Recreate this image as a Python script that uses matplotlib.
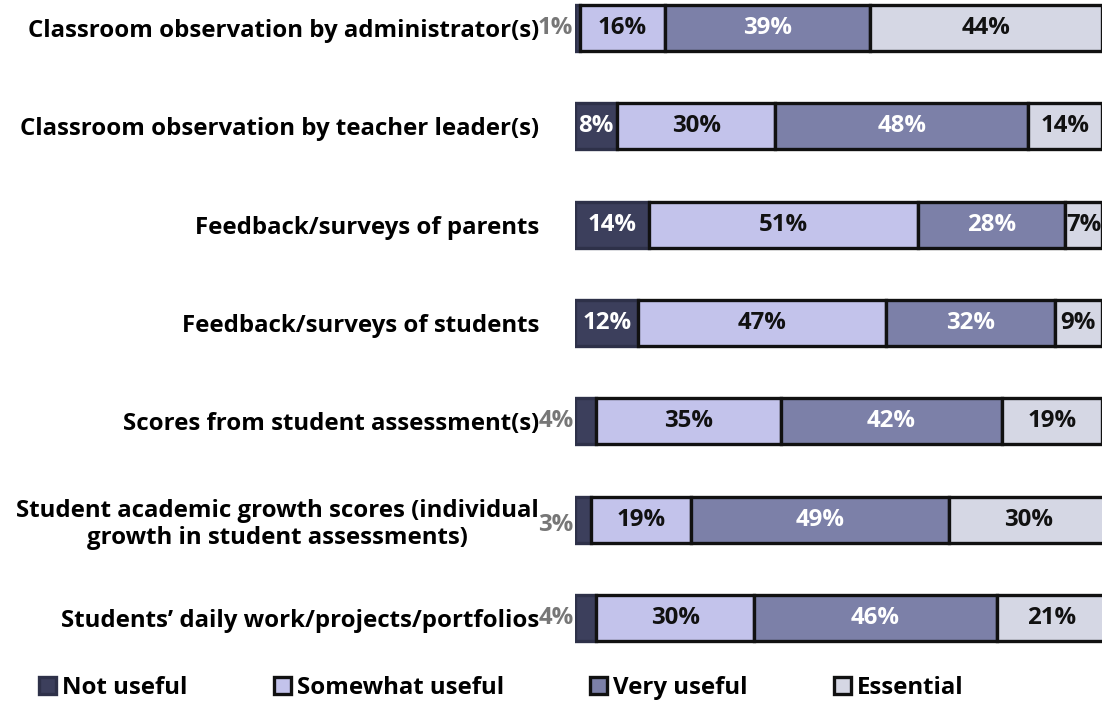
import matplotlib
matplotlib.use("Agg")
import matplotlib.pyplot as plt
from matplotlib.patches import Patch

categories = [
    "Classroom observation by administrator(s)",
    "Classroom observation by teacher leader(s)",
    "Feedback/surveys of parents",
    "Feedback/surveys of students",
    "Scores from student assessment(s)",
    "Student academic growth scores (individual\ngrowth in student assessments)",
    "Students\u2019 daily work/projects/portfolios",
]
series_names = ["Not useful", "Somewhat useful", "Very useful", "Essential"]
not_useful = [1, 8, 14, 12, 4, 3, 4]
somewhat_useful = [16, 30, 51, 47, 35, 19, 30]
very_useful = [39, 48, 28, 32, 42, 49, 46]
essential = [44, 14, 7, 9, 19, 30, 21]

fills = ["#3c3f5c", "#c3c3eb", "#7c80a8", "#d5d7e4"]
edges = ["#2e3149", "#111111", "#111111", "#111111"]
label_colors = ["white", "#111111", "white", "#111111"]

plt.rcParams["font.family"] = ["Open Sans", "DejaVu Sans"]
plt.rcParams["font.weight"] = "bold"
FS = 17.3

fig = plt.figure(figsize=(11.02, 7.02), dpi=100)
ax = fig.add_axes([575 / 1102, 1 - 650 / 702, 1 - 575 / 1102, 650 / 702])

ypos = list(range(len(categories)))
data = [not_useful, somewhat_useful, very_useful, essential]
left = [0] * len(categories)
for si, vals in enumerate(data):
    ax.barh(ypos, vals, left=left, height=0.47, color=fills[si],
            edgecolor=edges[si], linewidth=2.4, zorder=2)
    for i, v in enumerate(vals):
        if v < 5:
            dy = 0.05 if "\n" in categories[i] else 0
            ax.text(left[i] - 0.3, i + dy, f"{v}%", ha="right", va="center",
                    color="#777777", fontsize=FS, fontweight="bold", clip_on=False)
        else:
            ax.text(left[i] + v / 2, i, f"{v}%", ha="center", va="center",
                    color=label_colors[si], fontsize=FS, fontweight="bold")
    left = [l + v for l, v in zip(left, vals)]

ax.set_xlim(0, 100)
ax.set_ylim(6 + 32 / 98.33, -28 / 98.33)
ax.set_yticks(ypos)
ax.set_yticklabels(categories, fontsize=FS, fontweight="bold", multialignment="center")
ax.tick_params(axis="y", length=0, pad=26)
ax.set_xticks([])
for s in ax.spines.values():
    s.set_visible(False)

handles = [Patch(facecolor=fills[i], edgecolor=edges[i], linewidth=2.4) for i in range(4)]
fig.legend(handles, series_names, loc="center", bbox_to_anchor=(0.455, 0.020), ncol=4,
           frameon=False, handlelength=0.7, handleheight=0.7,
           handletextpad=0.25, columnspacing=3.6, prop={"weight": "bold", "size": FS})

fig.savefig("out.png", dpi=100)
